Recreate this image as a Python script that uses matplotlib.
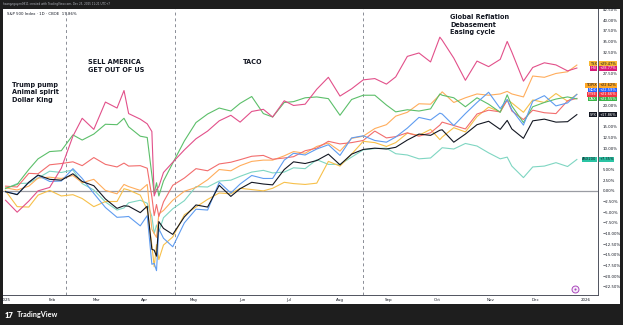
import numpy as np
import matplotlib.pyplot as plt
from matplotlib.patches import Rectangle
from matplotlib.transforms import blended_transform_factory

W, H = 623, 325

# trading-day number of each sample (0 = 2 Jan 2025), mostly Friday closes
days = [0, 5, 10, 14, 19, 24, 29, 33, 38, 43, 48, 51, 53, 58, 61, 63, 64, 65, 66, 68, 72,
        77, 82, 87, 92, 97, 101, 106, 111, 115, 120, 124, 129, 134, 139, 144, 149, 154, 159,
        164, 168, 173, 178, 183, 187, 188, 193, 198, 203, 208, 213, 216, 218, 223, 227, 232,
        237, 242, 246]

# % change since the start of 2025
spx = [-0.2, -0.9, 2.0, 3.7, 2.7, 2.5, 4.0, 2.2, 1.2, -1.9, -4.1, -3.5, -3.6, -5.1, -3.6,
       -13.7, -13.9, -15.3, -7.2, -8.8, -10.2, -6.1, -3.3, -3.8, 1.3, -1.3, 0.5, 2.0, 1.6,
       1.4, 5.0, 6.8, 6.4, 7.1, 8.6, 6.1, 8.6, 9.7, 10.0, 9.8, 10.2, 11.9, 13.3, 13.0, 14.2,
       14.3, 11.4, 13.3, 15.5, 16.3, 14.4, 16.5, 14.5, 12.3, 16.4, 16.8, 16.1, 16.2, 17.86]
ndx = [-0.2, -0.8, 2.0, 3.6, 2.2, 2.3, 5.2, 2.9, -0.6, -3.9, -6.2, -6.1, -6.0, -8.2, -5.8,
       -17.2, -17.0, -18.7, -8.9, -11.1, -13.1, -7.5, -4.3, -4.5, 2.0, -0.5, 1.6, 3.6, 2.9,
       2.9, 7.2, 8.8, 8.4, 9.8, 10.8, 8.3, 12.4, 12.9, 11.8, 11.4, 12.6, 14.7, 17.2, 16.6,
       18.2, 18.0, 15.3, 18.1, 20.7, 23.1, 19.3, 21.4, 19.0, 15.4, 21.0, 22.3, 19.9, 20.6,
       22.59]
dax = [0.6, 1.5, 5.0, 7.5, 9.2, 9.4, 13.1, 11.9, 13.3, 15.6, 15.5, 17.0, 15.0, 12.8, 12.5,
       3.7, -0.6, 1.9, -1.2, 2.3, 6.5, 11.7, 16.0, 18.0, 19.4, 18.7, 20.5, 22.1, 18.1, 17.3,
       20.7, 20.9, 21.8, 22.0, 21.6, 17.7, 21.4, 22.4, 22.4, 20.1, 18.5, 19.0, 18.7, 19.2,
       22.7, 22.4, 21.8, 19.7, 21.8, 20.3, 18.4, 22.5, 19.9, 16.0, 19.7, 20.7, 21.5, 22.0,
       21.55]
hsi = [-2.2, -5.0, -2.4, 0.0, 0.8, 5.3, 12.8, 17.0, 14.4, 20.8, 19.4, 23.5, 18.1, 16.8,
       15.7, 13.9, -1.2, 0.3, 1.0, 4.3, 6.7, 9.6, 12.2, 14.0, 16.4, 17.7, 16.1, 18.6, 19.1,
       17.3, 21.1, 20.0, 20.3, 23.8, 26.6, 22.2, 23.9, 26.0, 26.3, 25.0, 26.7, 31.5, 32.3,
       30.2, 36.0, 35.3, 31.1, 25.9, 30.4, 29.1, 30.8, 35.0, 32.5, 25.7, 28.9, 30.0, 29.5,
       28.1, 28.77]
ftse = [1.1, 0.9, 4.1, 4.0, 6.1, 6.4, 6.8, 5.9, 7.8, 6.2, 5.6, 6.5, 5.8, 5.9, 5.3, -1.4,
        -5.8, -3.2, -6.0, -2.6, 1.3, 3.0, 5.2, 4.7, 6.3, 6.7, 7.3, 8.1, 8.3, 7.4, 7.7, 8.0,
        9.4, 10.0, 11.6, 11.0, 11.3, 11.8, 14.0, 12.4, 12.7, 13.6, 12.8, 13.6, 15.4, 16.1,
        15.3, 14.5, 18.0, 18.9, 18.5, 21.3, 18.7, 16.7, 18.9, 18.3, 18.1, 21.1, 21.66]
topix = [0.0, -3.7, -3.8, -1.0, 0.1, -1.2, -0.9, -1.8, -3.7, -2.5, -2.5, 0.5, 0.2, -1.0,
         -4.4, -12.7, -17.8, -12.6, -16.1, -12.7, -10.8, -5.6, -3.8, -2.0, -0.5, -0.7, 0.6,
         0.3, 0.0, 0.6, 2.0, 1.7, 1.5, 1.8, 6.9, 5.8, 8.6, 11.6, 11.3, 10.4, 11.3, 13.5,
         13.0, 14.4, 12.0, 12.6, 14.8, 13.8, 17.4, 19.6, 18.5, 21.3, 20.6, 18.4, 21.3, 20.7,
         22.8, 21.0, 22.62]
tsx = [0.7, 0.2, 1.1, 3.0, 3.2, 2.9, 3.6, 1.9, 2.7, 0.1, -0.7, 1.5, 1.0, 0.1, 1.5, -9.0,
       -10.0, -10.9, -5.4, -4.6, -2.2, -0.1, 0.8, 2.6, 5.0, 4.7, 5.9, 6.9, 7.2, 7.2, 8.2, 9.2,
       8.8, 10.4, 11.2, 9.3, 12.3, 12.8, 14.6, 15.5, 17.5, 18.4, 20.4, 20.3, 22.5, 23.2,
       20.7, 21.8, 22.7, 22.4, 22.7, 23.3, 22.7, 22.0, 26.9, 26.6, 27.5, 27.9, 29.47]
asx = [0.5, 1.7, 1.8, 3.0, 4.6, 4.3, 4.9, 1.7, 0.2, -2.6, -4.5, -4.0, -2.8, -2.2, -2.9,
       -6.0, -10.0, -8.0, -9.6, -6.3, -4.2, -2.3, 1.0, 0.9, 2.3, 2.5, 3.4, 4.4, 4.8, 4.2, 4.4,
       5.4, 5.2, 7.3, 6.2, 6.2, 7.9, 9.6, 9.9, 10.0, 8.7, 8.4, 7.5, 7.7, 9.6, 10.1, 9.8,
       11.1, 10.5, 8.9, 7.5, 7.9, 5.8, 3.1, 5.6, 5.8, 6.6, 5.7, 7.35]

tickers = ['ASX200', 'TOPIX', 'TSX', 'FTSE', 'DAX', 'NDX', 'HSI', 'SPX']
series = [asx, topix, tsx, ftse, dax, ndx, hsi, spx]
line_colors = ['#7fd6c2', '#f7c04a', '#ffad5c', '#f26d6d', '#5cbf6a', '#5f9cf0', '#e2508a', '#131722']
box_colors = ['#2bc4a4', '#ffa726', '#f7b731', '#f23645', '#3bb54a', '#2962ff', '#d81b78', '#131722']
box_text = ['#131722', '#131722', '#131722', 'white', 'white', 'white', 'white', 'white']

month_days = [0, 20, 39, 60, 81, 102, 122, 144, 165, 186, 209, 228, 250]
month_labels = ['2025', 'Feb', 'Mar', 'Apr', 'May', 'Jun', 'Jul', 'Aug', 'Sep', 'Oct',
                'Nov', 'Dec', '2026']

# regime boundaries drawn as dashed verticals
event_days = [26, 73, 154]

notes = [
    (2.8, 25.6, 'Trump pump\nAnimal spirit\nDollar King'),
    (35.5, 30.8, 'SELL AMERICA\nGET OUT OF US'),
    (102.2, 30.9, 'TACO'),
    (191.4, 41.4, 'Global Reflation\nDebasement\nEasing cycle'),
]

dark = '#1e1e1e'
fig = plt.figure(figsize=(W / 100, H / 100), dpi=100, facecolor=dark)
fig.add_artist(Rectangle((3 / W, 1 - 304 / H), 617 / W, 295 / H, transform=fig.transFigure,
                         facecolor='white', edgecolor='none', zorder=0))

ax = fig.add_axes([3 / W, 1 - 295 / H, 595 / W, 286 / H])
ax.set_facecolor('white')
ax.set_xlim(-1.1, 255.1)
ax.set_ylim(-24.4, 42.6)

for d in event_days:
    ax.axvline(d, color='#8a8d96', lw=0.7, dashes=(3, 3), zorder=1)
ax.axhline(0, color='#9a9ca3', lw=0.9, zorder=1)

for vals, c in zip(series, line_colors):
    ax.plot(days, vals, color=c, lw=0.8, zorder=3, solid_joinstyle='round')

for x, y, txt in notes:
    ax.text(x, y, txt, ha='left', va='top', fontsize=4.7, fontweight='bold',
            color='#131722', linespacing=1.3, zorder=5)

# event marker near the end of the time axis
ax.plot([245.2], [-22.9], marker='o', ms=5, mfc='#f6eefa', mec='#ab47bc', mew=0.7,
        zorder=6, clip_on=False)
ax.plot([245.2], [-22.9], marker='o', ms=1.5, mfc='#ab47bc', mec='none', zorder=7,
        clip_on=False)

# axes styling
for side in ['left', 'top']:
    ax.spines[side].set_visible(False)
for side in ['right', 'bottom']:
    ax.spines[side].set_color('#50535e')
    ax.spines[side].set_linewidth(0.7)

# last-value tags on the price scale, stacked upward so they do not overlap
last = [s[-1] for s in series]
order = np.argsort(last)
sep = 1.05
tag_y = {}
prev = None
for i in order:
    p = last[i]
    if prev is not None and p < prev + sep:
        p = prev + sep
    tag_y[i] = p
    prev = p

# price scale labels; the ones sitting under a tag are hidden
yt = np.arange(-22.5, 42.6, 2.5)
ylabels = []
for v in yt:
    covered = any(abs(v - t) < 1.1 for t in tag_y.values())
    ylabels.append('' if covered else f'{v:.2f}%'.replace('-', '\u2212'))
ax.yaxis.tick_right()
ax.set_yticks(yt)
ax.set_yticklabels(ylabels)
ax.tick_params(axis='y', length=0, pad=3.5, labelsize=2.8, labelcolor='#131722')
ax.set_xticks(month_days)
ax.set_xticklabels(month_labels)
ax.tick_params(axis='x', length=0, pad=2.5, labelsize=2.9, labelcolor='#131722')

trans = blended_transform_factory(ax.transAxes, ax.transData)
for i in order:
    kw = dict(xycoords=trans, textcoords='offset points', va='center', fontsize=2.6,
              color=box_text[i], zorder=10, annotation_clip=False)
    ax.annotate(tickers[i], xy=(1, tag_y[i]), xytext=(-1.0, 0), ha='right',
                bbox=dict(boxstyle='square,pad=0.15', fc=box_colors[i], ec='none'), **kw)
    ax.annotate(f'+{last[i]:.2f}%', xy=(1, tag_y[i]), xytext=(1.0, 0), ha='left',
                bbox=dict(boxstyle='square,pad=0.15', fc=box_colors[i], ec='none'), **kw)

# header / legend / footer text
fig.text(7 / W, 1 - 14 / H, 'S&P 500 Index \u00b7 1D \u00b7 CBOE  17.86%', fontsize=2.8,
         color='#131722', va='center', ha='left')
fig.text(3 / W, 1 - 4.5 / H,
         'hoangnguyen0811 created with TradingView.com, Dec 25, 2025 11:21 UTC+7',
         fontsize=2.0, color='#b2b5be', va='center', ha='left')
fig.text(5 / W, 1 - 315 / H, '17', fontsize=5.5, fontweight='heavy', color='white',
         va='center', ha='left', family='Lato')
fig.text(17 / W, 1 - 315 / H, 'TradingView', fontsize=5.2, fontweight='bold', color='white',
         va='center', ha='left', family='Lato')

fig.savefig('out.png', dpi=100, facecolor=dark)
